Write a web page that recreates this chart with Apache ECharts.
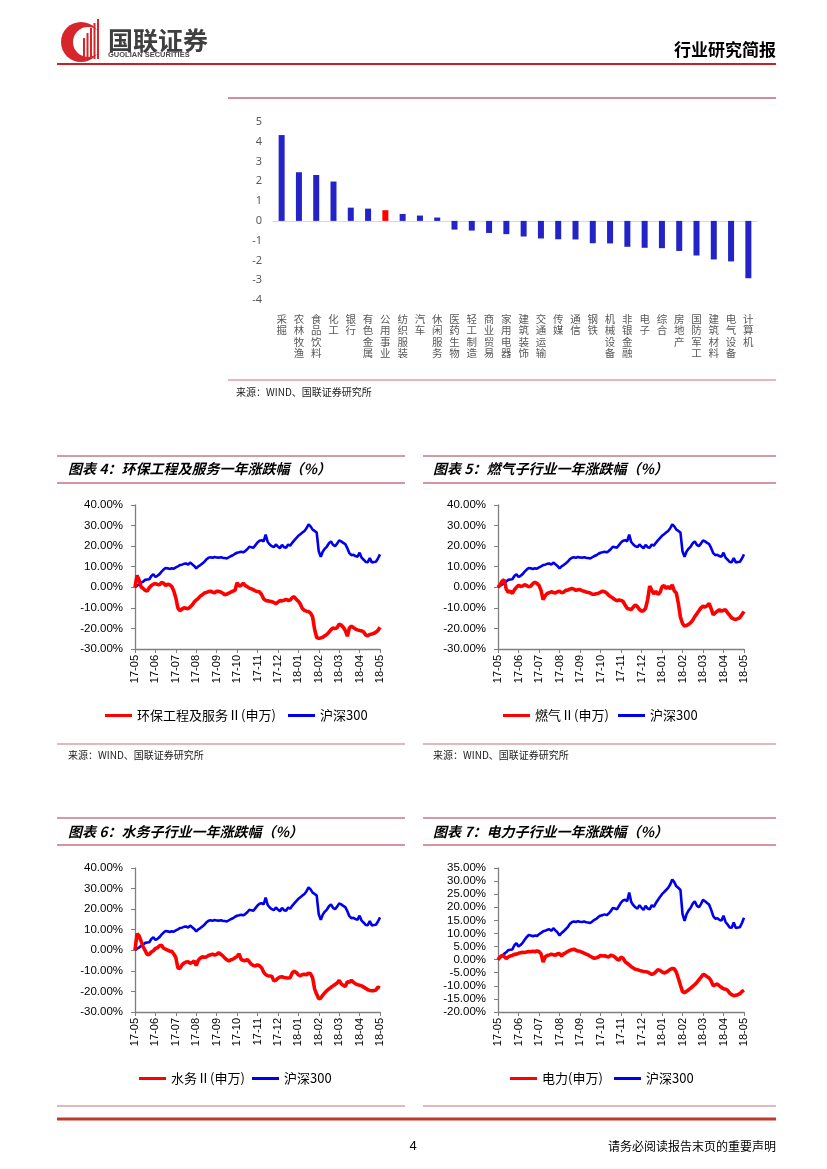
<!DOCTYPE html>
<html><head><meta charset="utf-8">
<script src="https://cdn.jsdelivr.net/npm/echarts@6/dist/echarts.min.js"></script>
<style>html,body{margin:0;padding:0;background:#fff}#c{width:827px;height:1169px}</style>
</head><body><div id="c"></div>
<script>
// ---------- Data ----------
const barCategories = ['采掘','农林牧渔','食品饮料','化工','银行','有色金属','公用事业','纺织服装','汽车','休闲服务','医药生物','轻工制造','商业贸易','家用电器','建筑装饰','交通运输','传媒','通信','钢铁','机械设备','非银金融','电子','综合','房地产','国防军工','建筑材料','电气设备','计算机'];
const barValues = [4.34,2.46,2.32,1.99,0.67,0.62,0.54,0.35,0.27,0.17,-0.44,-0.49,-0.61,-0.67,-0.79,-0.89,-0.93,-0.94,-1.13,-1.14,-1.31,-1.36,-1.38,-1.52,-1.75,-1.95,-2.05,-2.9];
const highlightCategory = '公用事业';
const barTicks = [-4,5,1];

const monthLabels = ['17-05','17-06','17-07','17-08','17-09','17-10','17-11','17-12','18-01','18-02','18-03','18-04','18-05'];

const hs300 = [0,0.8,1.3,2.2,2.8,3.6,3.8,3.9,5.5,6.3, 5.0,5.6,6.4,7.6,8.6,9.4,9.2,8.9,9.2,9.0, 9.7,10.2,10.8,11.0,11.4,11.6,11.0,12.0,11.2,10.4, 9.2,10.2,10.8,11.6,12.4,13.6,14.3,14.6,14.4,14.7, 14.5,14.4,14.6,14.3,14.2,14.0,14.6,15.2,15.6,16.3, 16.8,17.0,17.3,17.0,17.6,18.5,19.7,19.5,19.2,20.5, 21.8,22.6,22.9,22.3,25.6,22.0,20.8,20.0,19.5,20.8, 19.8,19.0,20.6,19.5,19.2,20.8,20.2,21.6,22.8,23.9, 25.0,25.8,26.6,27.4,28.7,30.6,29.6,28.0,27.4,26.6, 17.5,14.8,17.4,18.8,19.8,21.4,22.3,20.6,20.0,21.2, 22.8,22.3,21.6,21.0,19.0,16.6,15.6,15.8,15.2,14.9, 16.8,14.4,13.4,12.3,12.2,14.2,12.1,12.3,12.4,14.0, 16.0];
const envService = [0,5.8,3.5,0.2,-0.6,-1.5,-1.8,-0.2,0.9,1.5, 1.8,1.4,1.2,2.3,2.0,0.9,1.5,1.2,0.4,-1.8, -5.2,-10.0,-11.4,-10.6,-10.0,-10.2,-10.4,-9.6,-8.6,-7.2, -6.2,-5.4,-4.3,-3.6,-2.8,-2.5,-2.1,-1.9,-2.4,-2.7, -1.9,-2.0,-2.3,-2.9,-3.6,-3.3,-2.8,-2.3,-1.9,-1.4, 2.2,0.6,1.0,2.0,0.8,0.3,-0.4,-0.8,-1.2,-1.8, -2.0,-2.3,-3.5,-5.6,-6.4,-6.6,-6.8,-7.0,-7.4,-8.0, -7.2,-6.5,-6.6,-6.3,-5.9,-6.4,-6.2,-5.0,-4.6,-5.9, -6.8,-8.2,-10.4,-11.2,-11.6,-11.8,-12.6,-14.4,-20.6,-24.4, -24.8,-24.6,-24.3,-23.6,-22.9,-21.8,-20.6,-19.8,-20.1,-19.6, -17.9,-18.4,-19.4,-21.0,-23.8,-19.8,-18.9,-19.6,-20.3,-20.7, -21.0,-21.2,-21.7,-23.2,-23.6,-22.9,-22.7,-22.4,-21.8,-21.0, -19.4];
const gas = [0,1.2,3.0,3.6,-0.8,-2.4,-1.9,-3.0,-1.2,0.0, 0.9,0.4,0.6,1.2,0.9,0.2,0.6,1.8,2.4,1.9, 0.9,-1.5,-6.0,-4.2,-3.0,-2.6,-2.2,-2.5,-2.8,-2.2, -1.9,-2.6,-2.4,-1.5,-1.4,-0.9,-0.6,-0.9,-1.5,-1.2, -1.1,-1.7,-1.9,-2.3,-2.5,-2.8,-3.4,-3.4,-3.1,-2.9, -2.4,-1.9,-2.2,-2.8,-3.9,-4.6,-5.2,-6.0,-6.5,-6.2, -6.4,-6.9,-8.6,-10.2,-10.6,-10.8,-9.6,-8.6,-9.4,-10.8, -11.6,-11.4,-10.2,-6.0,0.6,-1.5,-3.2,-2.0,-3.4,-2.6, 0.2,0.8,-0.6,0.4,-0.8,1.2,-1.8,-2.8,-8.0,-14.5, -17.6,-18.9,-18.5,-18.0,-17.2,-16.0,-14.2,-12.9,-11.4,-10.0, -9.2,-9.6,-9.0,-7.8,-10.5,-13.4,-12.4,-11.6,-11.0,-11.6, -11.2,-10.9,-12.4,-13.6,-14.9,-15.4,-15.6,-15.2,-14.7,-13.2, -11.8];
const water = [0,8.0,7.0,4.4,1.6,-0.2,-2.2,-1.9,-0.8,-0.2, 0.9,1.2,2.2,2.4,1.0,0.5,0.1,-0.4,-0.5,-1.8, -3.5,-8.6,-8.8,-7.2,-6.2,-5.7,-5.6,-6.3,-5.9,-5.2, -7.4,-4.8,-3.8,-3.2,-3.4,-3.2,-2.5,-2.2,-1.9,-2.3, -2.0,-1.2,-1.9,-2.7,-3.8,-4.6,-5.2,-4.6,-4.3,-3.6, -3.0,-1.7,-4.4,-4.9,-5.1,-4.5,-5.6,-6.8,-7.4,-7.6, -7.1,-7.6,-8.5,-10.6,-11.8,-12.4,-12.5,-12.6,-14.8,-14.6, -13.6,-13.0,-12.9,-13.2,-13.4,-13.5,-13.3,-11.0,-10.2,-10.8, -11.9,-12.4,-11.8,-11.6,-11.9,-11.1,-11.4,-13.4,-18.9,-21.4, -23.6,-23.2,-21.8,-20.6,-19.6,-18.8,-18.0,-17.3,-16.6,-15.9, -14.6,-16.3,-17.1,-17.6,-15.3,-15.5,-14.6,-15.6,-16.3,-16.7, -17.0,-17.3,-17.9,-18.5,-19.2,-19.5,-19.7,-19.6,-19.3,-17.9, -18.2];
const power = [0,1.0,1.6,1.2,0.4,1.0,1.4,1.6,2.0,2.1, 2.4,2.6,2.8,2.7,2.9,3.1,3.0,3.2,3.0,3.3, 3.1,2.2,-0.9,1.0,1.6,1.8,2.1,1.9,1.7,2.2, 2.3,1.4,2.2,2.6,3.1,3.5,3.8,4.0,3.6,3.3, 3.2,2.8,2.5,2.1,1.8,1.3,0.9,0.5,0.7,1.0, 1.6,1.4,1.5,1.2,1.0,1.7,1.5,1.0,0.2,-0.2, 0.9,0.6,-0.8,-1.4,-2.0,-2.7,-3.2,-3.7,-3.8,-4.1, -4.3,-4.5,-4.6,-4.7,-5.2,-5.6,-5.4,-4.7,-3.8,-4.1, -4.7,-5.1,-4.8,-4.3,-3.7,-3.4,-3.5,-4.8,-7.2,-9.8, -12.2,-12.6,-12.1,-11.5,-10.9,-10.2,-9.5,-8.7,-7.7,-6.8, -5.7,-5.9,-6.5,-7.0,-8.2,-10.0,-9.6,-9.3,-10.0,-10.6, -11.1,-11.3,-11.7,-12.8,-13.4,-13.8,-13.6,-13.4,-13.0,-12.2, -11.7];

const panels = [
  {title:'图表 4：环保工程及服务一年涨跌幅（%）', name:'环保工程及服务Ⅱ(申万)', values:envService, yMin:-30, yMax:40, yStep:10},
  {title:'图表 5：燃气子行业一年涨跌幅（%）', name:'燃气Ⅱ(申万)', values:gas, yMin:-30, yMax:40, yStep:10},
  {title:'图表 6：水务子行业一年涨跌幅（%）', name:'水务Ⅱ(申万)', values:water, yMin:-30, yMax:40, yStep:10},
  {title:'图表 7：电力子行业一年涨跌幅（%）', name:'电力(申万)', values:power, yMin:-20, yMax:35, yStep:5}
];
const indexName = '沪深300';
const sourceText = '来源：WIND、国联证券研究所';

// ---------- Layout ----------
const CJK = '"Noto Sans CJK SC"';
const ARIAL = '"Liberation Sans", Arial';
const panelGeom = [
  {left:135, top:505, width:245, height:144, titleX:68, titleY:469, legA:105, legB:288, legY:709},
  {left:498, top:505, width:246, height:144, titleX:433, titleY:469, legA:503, legB:618, legY:709},
  {left:135, top:868, width:245, height:144, titleX:68, titleY:832, legA:139, legB:252, legY:1072},
  {left:498, top:868, width:246, height:144, titleX:433, titleY:832, legA:510, legB:614, legY:1072}
];

const grids = [{left:273, top:122, width:484, height:178}];
const xAxes = [
  {gridIndex:0, type:'category', data:barCategories, axisLine:{onZero:true, lineStyle:{color:'#d9d9d9', width:1}}, axisTick:{show:false}, axisLabel:{show:false}},
  {gridIndex:0, type:'category', data:barCategories, position:'bottom', axisLine:{show:false, onZero:false}, axisTick:{show:false},
   axisLabel:{interval:0, margin:13, color:'#595959', fontSize:10.5, lineHeight:11.5, fontFamily:CJK, verticalAlign:'top',
     formatter: v => v.split('').join('\n')}}
];
const yAxes = [
  {gridIndex:0, type:'value', min:barTicks[0], max:barTicks[1], interval:barTicks[2], axisLine:{show:false}, axisTick:{show:false}, splitLine:{show:false},
   axisLabel:{color:'#595959', fontSize:11, fontFamily:'"Noto Sans"', margin:11}}
];
const series = [
  {type:'bar', xAxisIndex:0, yAxisIndex:0, barWidth:6,
   data: barValues.map((v,i)=>({value:v, itemStyle:{color: barCategories[i]===highlightCategory ? '#FF0000' : '#2323C8'}}))}
];
const legends = [];
const graphics = [];

panels.forEach((p, k) => {
  const g = panelGeom[k];
  const gi = k + 1;
  const xi = xAxes.length;
  const yi = yAxes.length;
  grids.push({left:g.left, top:g.top, width:g.width, height:g.height});
  xAxes.push({gridIndex:gi, type:'value', min:0, max:(monthLabels.length-1)*10, interval:10,
    axisLine:{onZero:false, lineStyle:{color:'#7f7f7f', width:1.3}},
    axisTick:{show:true, length:4, lineStyle:{color:'#7f7f7f'}},
    splitLine:{show:false},
    axisLabel:{rotate:90, margin:6, fontSize:11, color:'#000', fontFamily:ARIAL, showMinLabel:true, showMaxLabel:true,
      formatter: v => monthLabels[Math.round(v/10)] || ''}});
  yAxes.push({gridIndex:gi, type:'value', min:p.yMin, max:p.yMax, interval:p.yStep,
    axisLine:{show:true, lineStyle:{color:'#7f7f7f', width:1.3}},
    axisTick:{show:true, length:4, lineStyle:{color:'#7f7f7f'}},
    splitLine:{show:false},
    axisLabel:{fontSize:11.5, color:'#000', fontFamily:ARIAL, margin:12, formatter: v => v.toFixed(2)+'%'}});
  series.push({type:'line', name:indexName, xAxisIndex:xi, yAxisIndex:yi, showSymbol:false, symbol:'none',
    lineStyle:{color:'#0000EE', width:2.6}, itemStyle:{color:'#0000EE'},
    data: hs300.map((v,i)=>[i, v])});
  series.push({type:'line', name:p.name, xAxisIndex:xi, yAxisIndex:yi, showSymbol:false, symbol:'none',
    lineStyle:{color:'#FF0000', width:3.6}, itemStyle:{color:'#FF0000'},
    data: p.values.map((v,i)=>[i, v])});
  const legCommon = {top:g.legY, orient:'horizontal', itemWidth:27, itemHeight:3, itemGap:10, padding:0, selectedMode:false,
    textStyle:{fontSize:13, color:'#000', fontFamily:CJK}};
  legends.push(Object.assign({}, legCommon, {left:g.legA, data:[{name:p.name, icon:'rect'}]}));
  legends.push(Object.assign({}, legCommon, {left:g.legB, data:[{name:indexName, icon:'rect'}]}));
  graphics.push({type:'text', x:g.titleX, y:g.titleY, style:{text:p.title, font:'italic bold 14px '+CJK, fill:'#000',
    textAlign:'left', textVerticalAlign:'middle', align:'left', verticalAlign:'middle'}});
});

function hline(x1, x2, y, color, w){
  graphics.push({type:'line', shape:{x1:x1, y1:y, x2:x2, y2:y}, style:{stroke:color, lineWidth:w}});
}
function txt(x, y, s, font, fill, align){
  graphics.push({type:'text', x:x, y:y, style:{text:s, font:font, fill:fill||'#000',
    textAlign:align||'left', textVerticalAlign:'middle', align:align||'left', verticalAlign:'middle'}});
}

// header
graphics.push({type:'circle', shape:{cx:81, cy:42, r:20}, style:{fill:'#D7262B'}});
graphics.push({type:'circle', shape:{cx:88, cy:42, r:15}, style:{fill:'#ffffff'}});
[[83,38],[86.5,33],[90,28],[93.5,23],[97,19]].forEach(b => {
  graphics.push({type:'rect', shape:{x:b[0], y:b[1], width:2, height:59-b[1]}, style:{fill:'#D7262B'}});
});
txt(108, 40, '国联证券', 'bold 25px '+CJK, '#3f3f3f');
txt(108, 55, 'GUOLIAN SECURITIES', 'bold 7.5px '+ARIAL, '#4a4a4a');
txt(776, 50, '行业研究简报', 'bold 17px '+CJK, '#000', 'right');
hline(57, 776, 64, '#C8202A', 2);

// bar section
hline(228, 776, 98, '#9E1F3A', 1);
hline(228, 776, 380, '#D0707F', 1.2);
txt(236, 392, sourceText, '10px '+CJK, '#222');

// panel frames
[[57,405],[423,776]].forEach(r => {
  hline(r[0], r[1], 456, '#A8344A', 1);
  hline(r[0], r[1], 483, '#C87080', 1.6);
  hline(r[0], r[1], 744, '#C87080', 1.2);
  hline(r[0], r[1], 818, '#A8344A', 1);
  hline(r[0], r[1], 845, '#C87080', 1.6);
  hline(r[0], r[1], 1106, '#C87080', 1.2);
});
txt(68, 755, sourceText, '10px '+CJK, '#222');
txt(433, 755, sourceText, '10px '+CJK, '#222');
hline(57, 776, 1119, '#C0392B', 3);

// footer
txt(413, 1146, '4', '13px '+ARIAL, '#000', 'center');
txt(776, 1146, '请务必阅读报告末页的重要声明', '12px '+CJK, '#000', 'right');

const chart = echarts.init(document.getElementById('c'), null, {renderer:'canvas'});
chart.setOption({
  animation:false,
  backgroundColor:'#fff',
  grid:grids, xAxis:xAxes, yAxis:yAxes, series:series, legend:legends, graphic:graphics
});
</script>
</body></html>
